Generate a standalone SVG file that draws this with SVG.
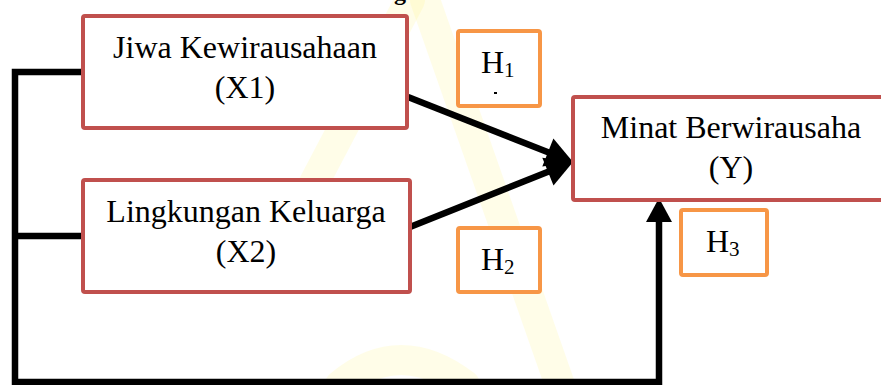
<svg xmlns="http://www.w3.org/2000/svg" width="881" height="385" viewBox="0 0 881 385">
<style>
.node{fill:#fff;stroke:#C0504D;stroke-width:4}
.hyp{fill:#fff;stroke:#F79646;stroke-width:4}
.t{font-family:"Liberation Serif","Times New Roman",serif;font-size:32px;fill:#000;text-anchor:middle}
.h{font-family:"Liberation Serif","Times New Roman",serif;font-size:32px;fill:#000}
.sub{font-size:21px}
.ln{fill:none;stroke:#000;stroke-width:6.5}
.wm{fill:none;stroke:#FFF45C;stroke-opacity:0.14;stroke-width:30;stroke-linecap:round}
</style>
<rect width="881" height="385" fill="#fff"/>
<g id="watermark">
<path class="wm" d="M410,0 L305,200"/>
<path class="wm" d="M425,0 L560,385"/>
<path class="wm" d="M340,385 Q400,335 465,385"/>
</g>
<text x="394" y="0" font-family="Liberation Serif,serif" font-weight="bold" font-size="24">g</text>
<g id="connectors">
<path class="ln" d="M81,72 H15 V382 H659 V220"/>
<path class="ln" d="M15,236 H81"/>
<path d="M646,222 L659,198 L672,222 z" fill="#000"/>
<path class="ln" d="M408,97 L550,153" stroke-width="7.5"/>
<path d="M573,162 L542.3,166.4 L553.4,138.5 z" fill="#000"/>
<path class="ln" d="M410,227 L550,171" stroke-width="7.5"/>
<path d="M573,162 L553.5,185.6 L542.3,157.8 z" fill="#000"/>
</g>
<g id="X1">
<rect class="node" x="83" y="16" width="324" height="112" rx="2"/>
<text class="t" x="245" y="58">Jiwa Kewirausahaan</text>
<text class="t" x="245" y="98">(X1)</text>
</g>
<g id="X2">
<rect class="node" x="83" y="180" width="327" height="112" rx="2"/>
<text class="t" x="246" y="222">Lingkungan Keluarga</text>
<text class="t" x="246" y="262">(X2)</text>
</g>
<g id="Y">
<rect class="node" x="573" y="97" width="320" height="103" rx="2"/>
<text class="t" x="731" y="138">Minat Berwirausaha</text>
<text class="t" x="731" y="178">(Y)</text>
</g>
<g id="H1">
<rect class="hyp" x="458" y="31" width="82" height="75" rx="2"/>
<text class="h" x="481" y="73">H<tspan class="sub" dy="4">1</tspan></text>
<rect x="494" y="92" width="3" height="2" fill="#000"/>
</g>
<g id="H2">
<rect class="hyp" x="458" y="228" width="82" height="64" rx="2"/>
<text class="h" x="481" y="270">H<tspan class="sub" dy="4">2</tspan></text>
</g>
<g id="H3">
<rect class="hyp" x="681" y="210" width="86" height="65" rx="2"/>
<text class="h" x="706" y="252">H<tspan class="sub" dy="4">3</tspan></text>
</g>
</svg>
